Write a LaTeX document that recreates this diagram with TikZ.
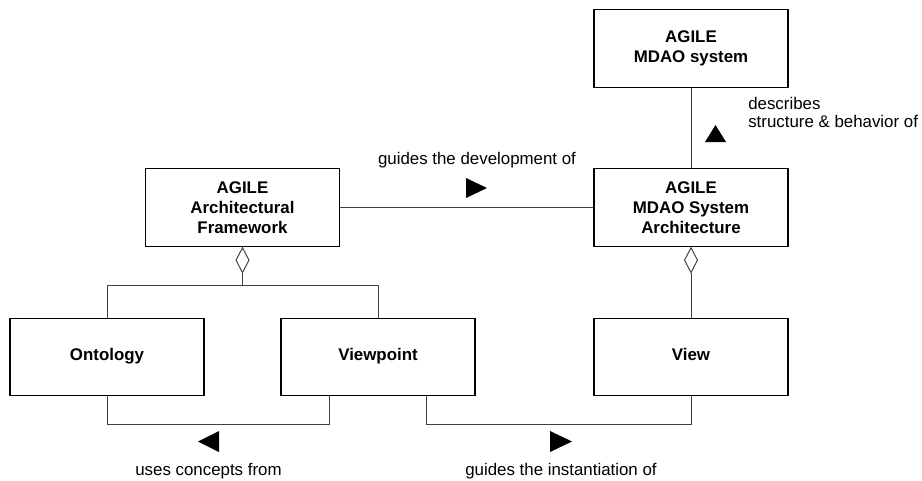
\documentclass[tikz,border=0pt]{standalone}
\usepackage{fontspec}
\setmainfont{Liberation Sans}
\usepackage{tikz}
\usetikzlibrary{arrows.meta}

\begin{document}
\begin{tikzpicture}[
    block/.style={draw, line width=0.8pt, minimum width=4.85cm, minimum height=1.93cm,
                  align=center, font=\bfseries\fontsize{12}{14.2}\selectfont},
    oneline/.style={text height=0.75em, text depth=0.22em},
    link/.style={draw=black!75, line width=0.7pt},
    note/.style={font=\fontsize{12}{12.1}\selectfont, inner sep=0pt}
  ]
    \useasboundingbox (0,0) rectangle (23.05,-12);

    % draw the blocks
    \node[block] (system)    at (17.275,-1.2125) {AGILE\\MDAO system};
    \node[block] (arch)      at (17.275,-5.1875) {AGILE\\MDAO System\\Architecture};
    \node[block] (framework) at (6.0625,-5.1875) {AGILE\\Architectural\\Framework};
    \node[block, oneline] (ontology)  at (2.675,-8.925)   {Ontology};
    \node[block, oneline] (viewpoint) at (9.45,-8.925)    {Viewpoint};
    \node[block, oneline] (view)      at (17.275,-8.925)  {View};

    % draw the associations
    \draw[link] (system) -- (arch);
    \draw[link] (framework) -- (arch);

    % draw the aggregations
    \draw[link, {Diamond[open, length=0.675cm, width=0.35cm]}-] (framework.south) -- ++(0,-0.975) coordinate (fwjoin);
    \draw[link] (ontology.north) |- (fwjoin) -| (viewpoint.north);
    \draw[link, {Diamond[open, length=0.675cm, width=0.35cm]}-] (arch.south) -- (view.north);

    % draw the lower associations
    \draw[link] (ontology.south) -- ++(0,-0.7) -| ([xshift=-1.225cm]viewpoint.south);
    \draw[link] ([xshift=1.2cm]viewpoint.south) -- ++(0,-0.7) -| (view.south);

    % draw the reading direction triangles
    \fill (11.65,-4.45) -- (12.175,-4.7) -- (11.65,-4.95) -- cycle;
    \fill (17.625,-3.55) -- (18.15,-3.55) -- (17.8875,-3.125) -- cycle;
    \fill (4.95,-11.0375) -- (5.475,-10.775) -- (5.475,-11.3) -- cycle;
    \fill (13.75,-10.775) -- (14.3,-11.0375) -- (13.75,-11.3) -- cycle;

    % draw the association names
    \node[note] (devtext) at (11.925,-4.0) {guides the development of};
    \node[note, anchor=base west, align=left] (desctext) at (18.7,-3.175) {describes\\structure \& behavior of};
    \node[note] (usestext) at (5.2125,-11.77) {uses concepts from};
    \node[note] (insttext) at (14.025,-11.77) {guides the instantiation of};

  \end{tikzpicture}
\end{document}
